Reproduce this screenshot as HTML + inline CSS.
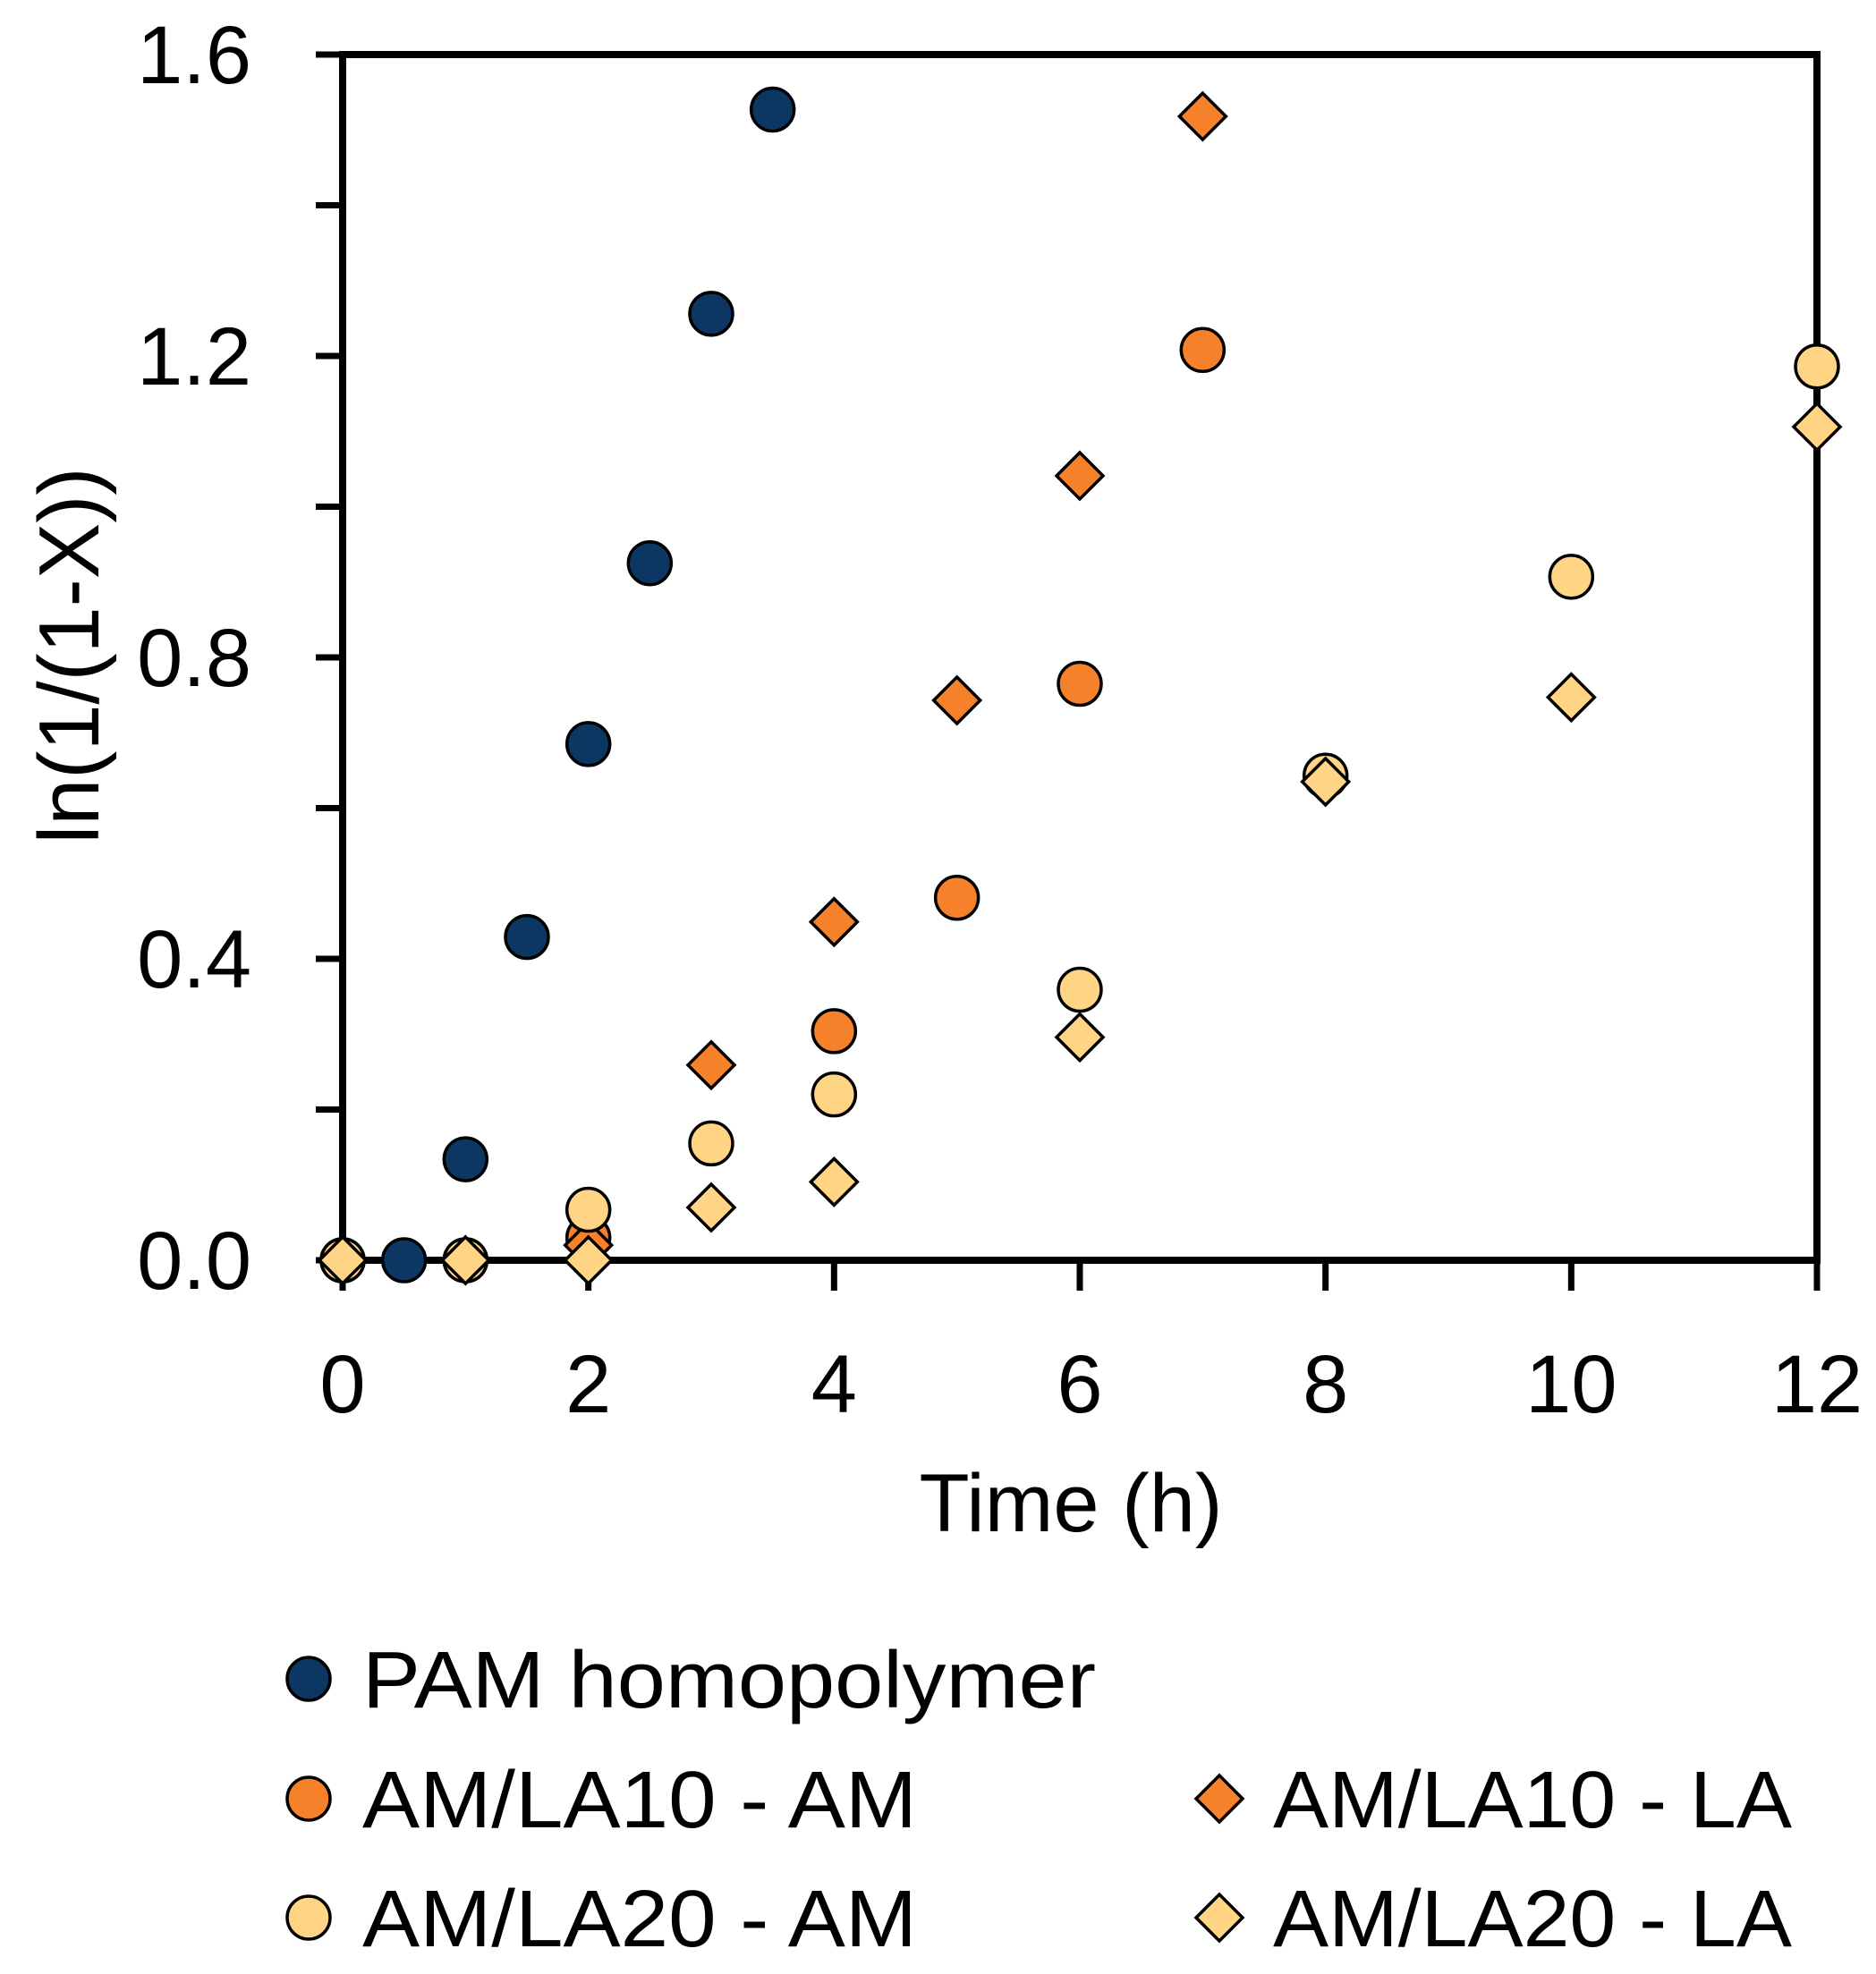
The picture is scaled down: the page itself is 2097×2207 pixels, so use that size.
<!DOCTYPE html>
<html><head><meta charset="utf-8"><style>
html,body{margin:0;padding:0;background:#fff;}
svg{display:block;font-family:"Liberation Sans",sans-serif;}
</style></head><body>
<svg id="chart" width="2097" height="2207" viewBox="0 0 2097 2207" xmlns="http://www.w3.org/2000/svg">
<g id="axes"></g>
<g id="marks"></g>
<text x="1197" y="1712" font-size="92" text-anchor="middle">Time (h)</text>
<text transform="translate(110,733) rotate(-90)" font-size="96" text-anchor="middle" textLength="421" lengthAdjust="spacingAndGlyphs">ln(1/(1-X))</text>
<g id="legend"></g>
</svg>
<script>
const xTicks = [0, 2, 4, 6, 8, 10, 12];
const yTicks = [0, 0.2, 0.4, 0.6, 0.8, 1.0, 1.2, 1.4, 1.6];
const yTickLabels = ["0.0", "", "0.4", "", "0.8", "", "1.2", "", "1.6"];
const pamX = [0, 0.5, 1, 1.5, 2, 2.5, 3, 3.5];
const pamY = [0, 0, 0.134, 0.429, 0.685, 0.925, 1.256, 1.527];
const la10amX = [0, 1, 2, 4, 5, 6, 7];
const la10amY = [0, 0, 0.03, 0.304, 0.481, 0.765, 1.208];
const la10laX = [0, 1, 2, 3, 4, 5, 6, 7];
const la10laY = [0, 0, 0.02, 0.259, 0.449, 0.743, 1.041, 1.518];
const la20amX = [0, 1, 2, 3, 4, 6, 8, 10, 12];
const la20amY = [0, 0, 0.067, 0.155, 0.22, 0.359, 0.643, 0.907, 1.186];
const la20laX = [0, 1, 2, 3, 4, 6, 8, 10, 12];
const la20laY = [0, 0, 0, 0.07, 0.104, 0.296, 0.635, 0.747, 1.106];
const seriesNames = ["PAM homopolymer", "AM/LA10 - AM", "AM/LA10 - LA", "AM/LA20 - AM", "AM/LA20 - LA"];

const NS = "http://www.w3.org/2000/svg";
const L = 383, R = 2031, T = 61, B = 1409;
const sx = v => L + (v - 0) / 12 * (R - L);
const sy = v => B - v / 1.6 * (B - T);
const NAVY = "#0c3763", ORANGE = "#f5822a", LIGHT = "#ffd485";

function mk(tag, attrs, parent) {
  const e = document.createElementNS(NS, tag);
  for (const k in attrs) e.setAttribute(k, attrs[k]);
  parent.appendChild(e);
  return e;
}
const axes = document.getElementById("axes");
const marks = document.getElementById("marks");
const legend = document.getElementById("legend");

let frame = mk("rect", {x: L, y: T, width: R - L, height: B - T, fill: "none", stroke: "#000", "stroke-width": 8}, axes);



yTicks.forEach((v, i) => {
  const t = mk("line", {x1: L - 30, x2: L, y1: sy(v), y2: sy(v), stroke: "#000", "stroke-width": 7}, axes);
  
  
  if (yTickLabels[i]) {
    const tx = mk("text", {x: 281, y: sy(v) + 32, "font-size": 92, "text-anchor": "end"}, axes);
    tx.textContent = yTickLabels[i];
    
    
  }
});
xTicks.forEach(v => {
  const t = mk("line", {x1: sx(v), x2: sx(v), y1: B, y2: B + 34, stroke: "#000", "stroke-width": 7}, axes);
  
  
  const tx = mk("text", {x: sx(v), y: 1579, "font-size": 92, "text-anchor": "middle"}, axes);
  tx.textContent = String(v);
  
  
});

function circle(cx, cy, fill, parent) {
  return mk("circle", {cx: cx, cy: cy, r: 24, fill: fill, stroke: "#000", "stroke-width": 3.5}, parent);
}
function diamond(cx, cy, fill, parent) {
  const d = 26;
  return mk("polygon", {points: `${cx},${cy-d} ${cx+d},${cy} ${cx},${cy+d} ${cx-d},${cy}`, fill: fill, stroke: "#000", "stroke-width": 3.5, "stroke-linejoin": "miter"}, parent);
}
const series = [
  [pamX, pamY, "circle", NAVY, "pam"],
  [la10amX, la10amY, "circle", ORANGE, "am-la10-am"],
  [la10laX, la10laY, "diamond", ORANGE, "am-la10-la"],
  [la20amX, la20amY, "circle", LIGHT, "am-la20-am"],
  [la20laX, la20laY, "diamond", LIGHT, "am-la20-la"]
];
series.forEach(s => {
  s[0].forEach((xv, i) => {
    const el = s[2] === "circle" ? circle(sx(xv), sy(s[1][i]), s[3], marks) : diamond(sx(xv), sy(s[1][i]), s[3], marks);
    
    
  });
});

const legPos = [[345, 1877], [345, 2011], [1363, 2011], [345, 2144], [1363, 2144]];
const legW = [820, 620, 580, 620, 580];
series.forEach((s, i) => {
  const [mx, my] = legPos[i];
  const el = s[2] === "circle" ? circle(mx, my, s[3], legend) : diamond(mx, my, s[3], legend);
  
  
  const tx = mk("text", {x: mx + 60, y: my + 32, "font-size": 90, textLength: legW[i], lengthAdjust: "spacingAndGlyphs"}, legend);
  tx.textContent = seriesNames[i];
  
  
});
</script>
</body></html>
